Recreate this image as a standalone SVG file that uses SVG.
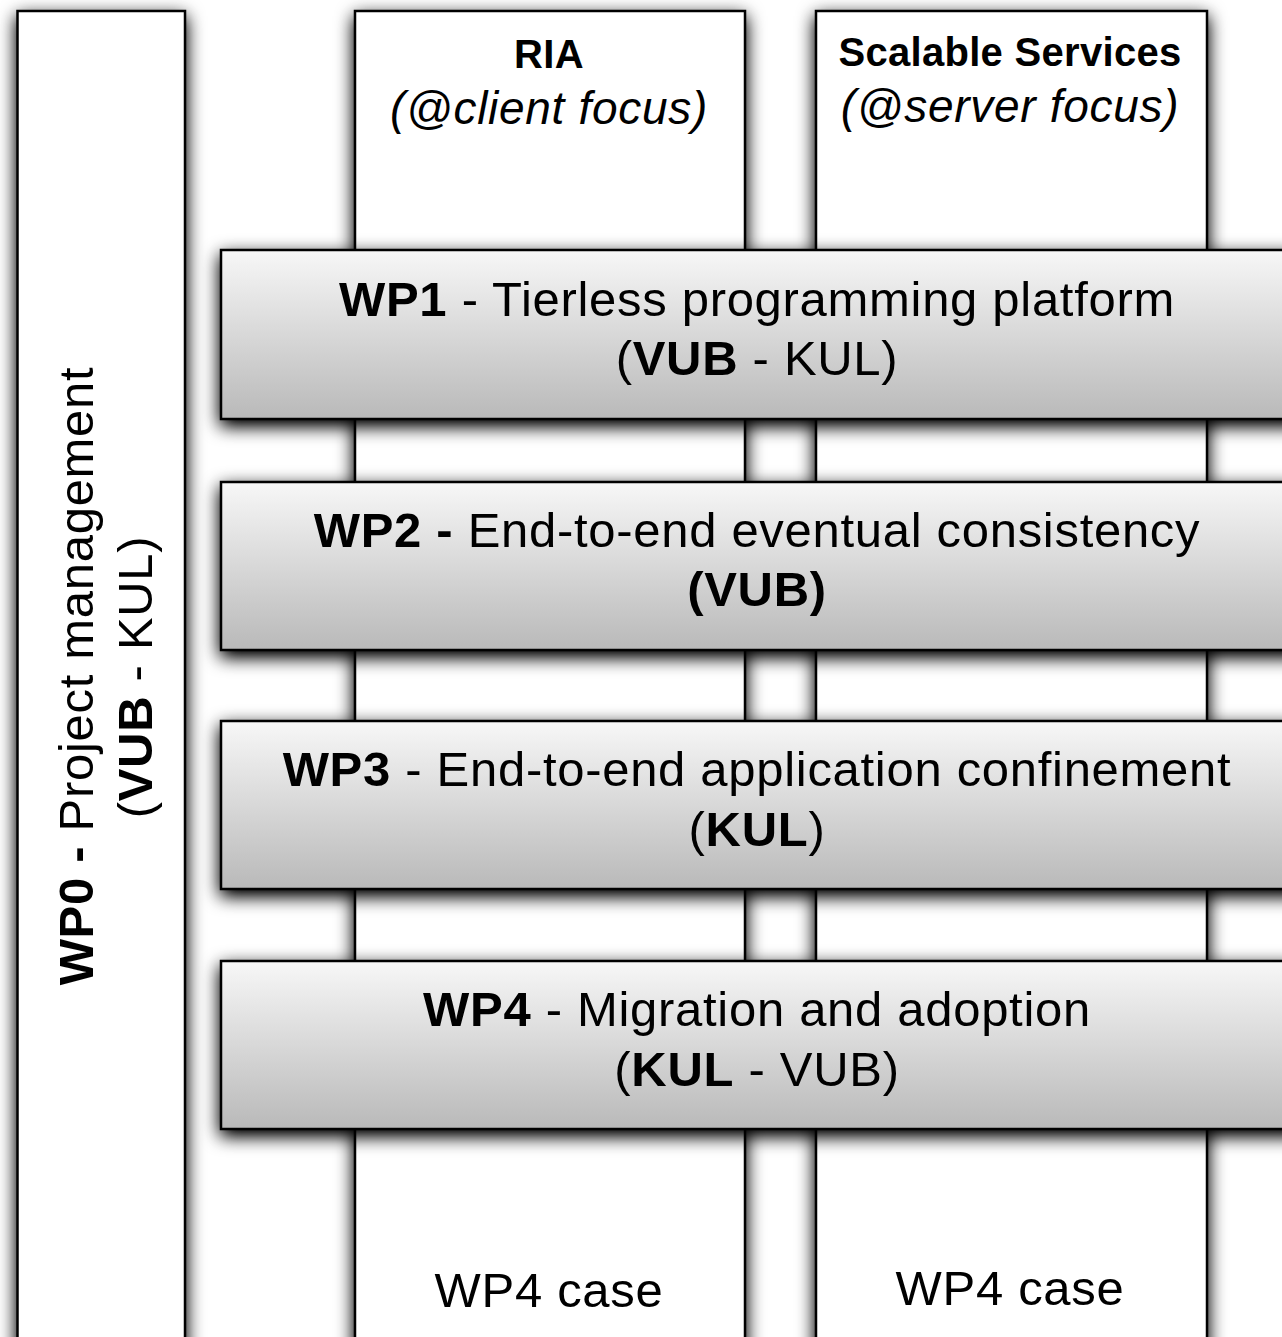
<svg xmlns="http://www.w3.org/2000/svg" width="1282" height="1337" viewBox="0 0 1282 1337">
  <defs>
    <filter id="shadow" x="-20%" y="-20%" width="140%" height="140%">
      <feGaussianBlur in="SourceAlpha" stdDeviation="9"/>
      <feOffset dx="0" dy="6" result="blur"/>
      <feComponentTransfer>
        <feFuncA type="linear" slope="1.15"/>
      </feComponentTransfer>
      <feMerge>
        <feMergeNode/>
        <feMergeNode in="SourceGraphic"/>
      </feMerge>
    </filter>
    <linearGradient id="barFill" x1="0" y1="0" x2="0" y2="1">
      <stop offset="0" stop-color="#f7f7f7"/>
      <stop offset="1" stop-color="#b9b9b9"/>
    </linearGradient>
  </defs>
  <style>
    .box { fill: #ffffff; stroke: #000000; stroke-width: 2.5; filter: url(#shadow); }
    .bar { fill: url(#barFill); stroke: #000000; stroke-width: 2.5; filter: url(#shadow); }
    text { font-family: "Liberation Sans", Arial, Helvetica, sans-serif; fill: #000000; }
    .big { font-size: 49px; letter-spacing: 0.7px; }
    .head { font-size: 40px; font-weight: bold; letter-spacing: 0.3px; }
    .sub { font-size: 46px; font-style: italic; letter-spacing: 0.7px; }
    .b { font-weight: bold; }
  </style>
  <rect width="1282" height="1337" fill="#ffffff"/>

  <!-- project management column -->
  <g id="wp0">
    <rect class="box" x="17.5" y="11" width="167.5" height="1360"/>
    <g transform="translate(93 676) rotate(-90)">
      <text class="big" x="0" y="0" text-anchor="middle"><tspan class="b">WP0 -</tspan> Project management</text>
    </g>
    <g transform="translate(152 677) rotate(-90)">
      <text class="big" x="0" y="0" text-anchor="middle">(<tspan class="b">VUB</tspan> - KUL)</text>
    </g>
  </g>

  <!-- client-side column -->
  <g id="ria">
    <rect class="box" x="355" y="11" width="390" height="1360"/>
    <text class="head" x="549" y="68" text-anchor="middle">RIA</text>
    <text class="sub" x="549" y="124" text-anchor="middle">(@client focus)</text>
    <text class="big" x="549" y="1307" text-anchor="middle">WP4 case</text>
  </g>

  <!-- server-side column -->
  <g id="scalable">
    <rect class="box" x="816" y="11" width="391" height="1360"/>
    <text class="head" x="1010" y="66" text-anchor="middle">Scalable Services</text>
    <text class="sub" x="1010" y="122" text-anchor="middle">(@server focus)</text>
    <text class="big" x="1010" y="1305" text-anchor="middle">WP4 case</text>
  </g>

  <!-- work package bars -->
  <g id="wp1">
    <rect class="bar" x="221" y="250" width="1080" height="169"/>
    <text class="big" x="757" y="316" text-anchor="middle"><tspan class="b">WP1</tspan> - Tierless programming platform</text>
    <text class="big" x="757" y="375" text-anchor="middle">(<tspan class="b">VUB</tspan> - KUL)</text>
  </g>
  <g id="wp2">
    <rect class="bar" x="221" y="482" width="1080" height="168"/>
    <text class="big" x="757" y="547" text-anchor="middle"><tspan class="b">WP2 -</tspan> End-to-end eventual consistency</text>
    <text class="big b" x="757" y="606" text-anchor="middle">(VUB)</text>
  </g>
  <g id="wp3">
    <rect class="bar" x="221" y="721" width="1080" height="168"/>
    <text class="big" x="757" y="786" text-anchor="middle"><tspan class="b">WP3</tspan> - End-to-end application confinement</text>
    <text class="big" x="757" y="846" text-anchor="middle">(<tspan class="b">KUL</tspan>)</text>
  </g>
  <g id="wp4">
    <rect class="bar" x="221" y="961" width="1080" height="168"/>
    <text class="big" x="757" y="1026" text-anchor="middle"><tspan class="b">WP4</tspan> - Migration and adoption</text>
    <text class="big" x="757" y="1086" text-anchor="middle">(<tspan class="b">KUL</tspan> - VUB)</text>
  </g>
</svg>
